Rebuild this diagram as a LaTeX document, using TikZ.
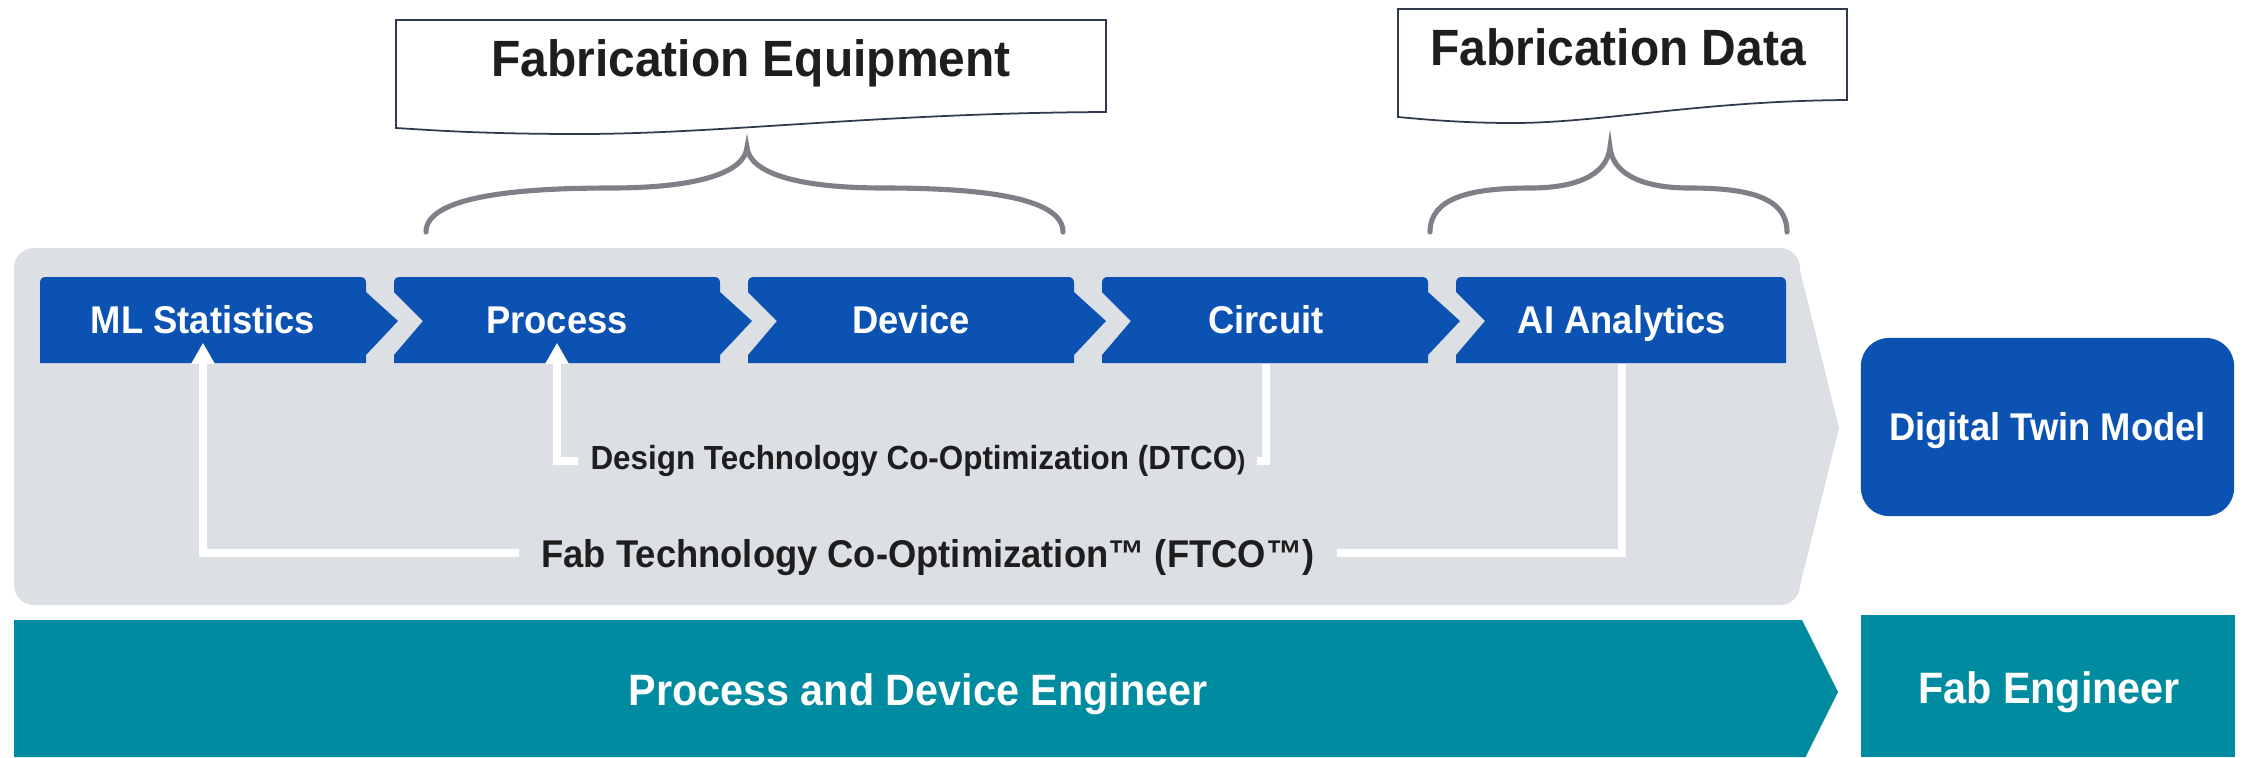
\documentclass[tikz,border=0pt]{standalone}
\usepackage{fontspec}
\setmainfont{Liberation Sans}[FakeStretch=0.94]
\usetikzlibrary{arrows.meta,calc}
\definecolor{boxblue}{RGB}{11,82,178}
\definecolor{tealc}{RGB}{0,140,160}
\definecolor{panelgray}{RGB}{220,224,228}
\definecolor{bracegray}{RGB}{127,127,135}
\definecolor{calloutline}{RGB}{47,59,76}
\definecolor{txt}{RGB}{30,30,30}
\newcommand\cvLflat[1]{(#1,363) -- (#1,283) .. controls (#1,279) and ({#1+2},277) .. ({#1+6},277)}
\newcommand\cvLnotch[1]{(#1,363) -- (#1,355) -- ({#1+29},321) -- (#1,292) -- (#1,283) .. controls (#1,279) and ({#1+2},277) .. ({#1+6},277)}
\newcommand\cvRtip[1]{-- ({#1-6},277) .. controls ({#1-2},277) and (#1,279) .. (#1,283) -- (#1,292) -- ({#1+32},321) -- (#1,355) -- (#1,363) -- cycle}
\newcommand\cvRflat[1]{-- ({#1-6},277) .. controls ({#1-2},277) and (#1,279) .. (#1,283) -- (#1,363) -- cycle}
\begin{document}
\begin{tikzpicture}[x=0.01cm,y=-0.01cm,
  chev/.style={inner sep=0pt, minimum width=3.26cm, minimum height=0.86cm, text=white,
    font=\bfseries\fontsize{11}{13}\selectfont, text height=7.9pt, text depth=0pt},
  dtmbox/.style={fill=boxblue, rounded corners=0.28cm, inner sep=0pt, minimum width=3.73cm,
    minimum height=1.78cm, text=white, font=\bfseries\fontsize{11}{13}\selectfont,
    text height=7.9pt, text depth=0pt},
  title/.style={anchor=base, inner sep=0pt, text=txt, font=\bfseries\fontsize{14.5}{17}\selectfont},
  eng/.style={anchor=base, inner sep=0pt, text=white, font=\bfseries\fontsize{12.5}{15}\selectfont},
  dtcotext/.style={anchor=base, inner sep=0pt, text=txt, font=\bfseries\fontsize{9.5}{11}\selectfont},
  ftcotext/.style={anchor=base, inner sep=0pt, text=txt, font=\bfseries\fontsize{11}{13}\selectfont},
  callout/.style={draw=calloutline, fill=white, line width=0.5pt},
  brace/.style={draw=bracegray, line width=1.45pt, line cap=round},
  wline/.style={draw=white, line width=2.1pt},
  warrow/.style={wline, -{Triangle[length=6pt,width=6.3pt]}}
]
\useasboundingbox (0,0) rectangle (2244,757);

% callouts
\draw[callout] (396,20) -- (1106,20) -- (1106,112) .. controls (880,113) and (720,134) .. (580,134) .. controls (480,134) and (430,130) .. (396,128) -- cycle;
\node[title] (fe) at (751,76) {Fabrication Equipment};
\draw[callout] (1398,9) -- (1847,9) -- (1847,100) .. controls (1700,101) and (1600,123) .. (1513,123) .. controls (1460,123) and (1420,119) .. (1398,117) -- cycle;
\node[title] (fd) at (1618,65) {Fabrication Data};

% braces
\draw[brace] (426,232) .. controls (426,196) and (520,188) .. (610,188) .. controls (700,188) and (745,172) .. (747,147) .. controls (749,172) and (794,188) .. (884,188) .. controls (974,188) and (1063,196) .. (1063,232);
\draw[brace] (1430,232) .. controls (1430,198) and (1470,188) .. (1530,188) .. controls (1585,188) and (1608,170) .. (1610,147) .. controls (1612,170) and (1635,188) .. (1690,188) .. controls (1750,188) and (1787,198) .. (1787,232);

% gray panel
\fill[panelgray, rounded corners=0.2cm] (14,248) rectangle (1800,605);
\fill[panelgray] (1799,266) -- (1839,428) -- (1799,590) -- cycle;

% chevrons
\fill[boxblue] \cvLflat{40} \cvRtip{366};
\fill[boxblue] \cvLnotch{394} \cvRtip{720};
\fill[boxblue] \cvLnotch{748} \cvRtip{1074};
\fill[boxblue] \cvLnotch{1102} \cvRtip{1428};
\fill[boxblue] \cvLnotch{1456} \cvRflat{1786};
\node[chev] (ml) at (203,320) {ML Statistics};
\node[chev] (process) at (557,320) {Process};
\node[chev] (device) at (911,320) {Device};
\node[chev] (circuit) at (1266,320) {Circuit};
\node[chev, minimum width=3.30cm] (ai) at (1622,320) {AI Analytics};

% DTCO loop
\coordinate (dL) at (578,461);
\coordinate (dR) at (1257,461);
\draw[warrow] (dL) -| ([yshift=0.21cm]process.south);
\draw[wline] (circuit.south) |- (dR);
\node[dtcotext] (dtco) at (918,469) {Design Technology Co-Optimization (DTCO{\fontsize{7.5}{9}\selectfont)}};

% FTCO loop
\coordinate (fL) at (519,553);
\coordinate (fR) at (1337,553);
\draw[warrow] (fL) -| ([yshift=0.21cm]ml.south);
\draw[wline] (ai.south) |- (fR);
\node[ftcotext] (ftco) at (928,567) {Fab Technology Co-Optimization™ (FTCO™)};

% digital twin
\node[dtmbox] (dtm) at (2047.5,427) {Digital Twin Model};

% teal bars
\fill[tealc] (14,620) -- (1802,620) -- (1838,692) -- (1805.5,757) -- (14,757) -- cycle;
\node[eng] (pde) at (918,705) {Process and Device Engineer};
\fill[tealc] (1861,615) rectangle (2235,757);
\node[eng] (fab) at (2049,703) {Fab Engineer};
\end{tikzpicture}
\end{document}
